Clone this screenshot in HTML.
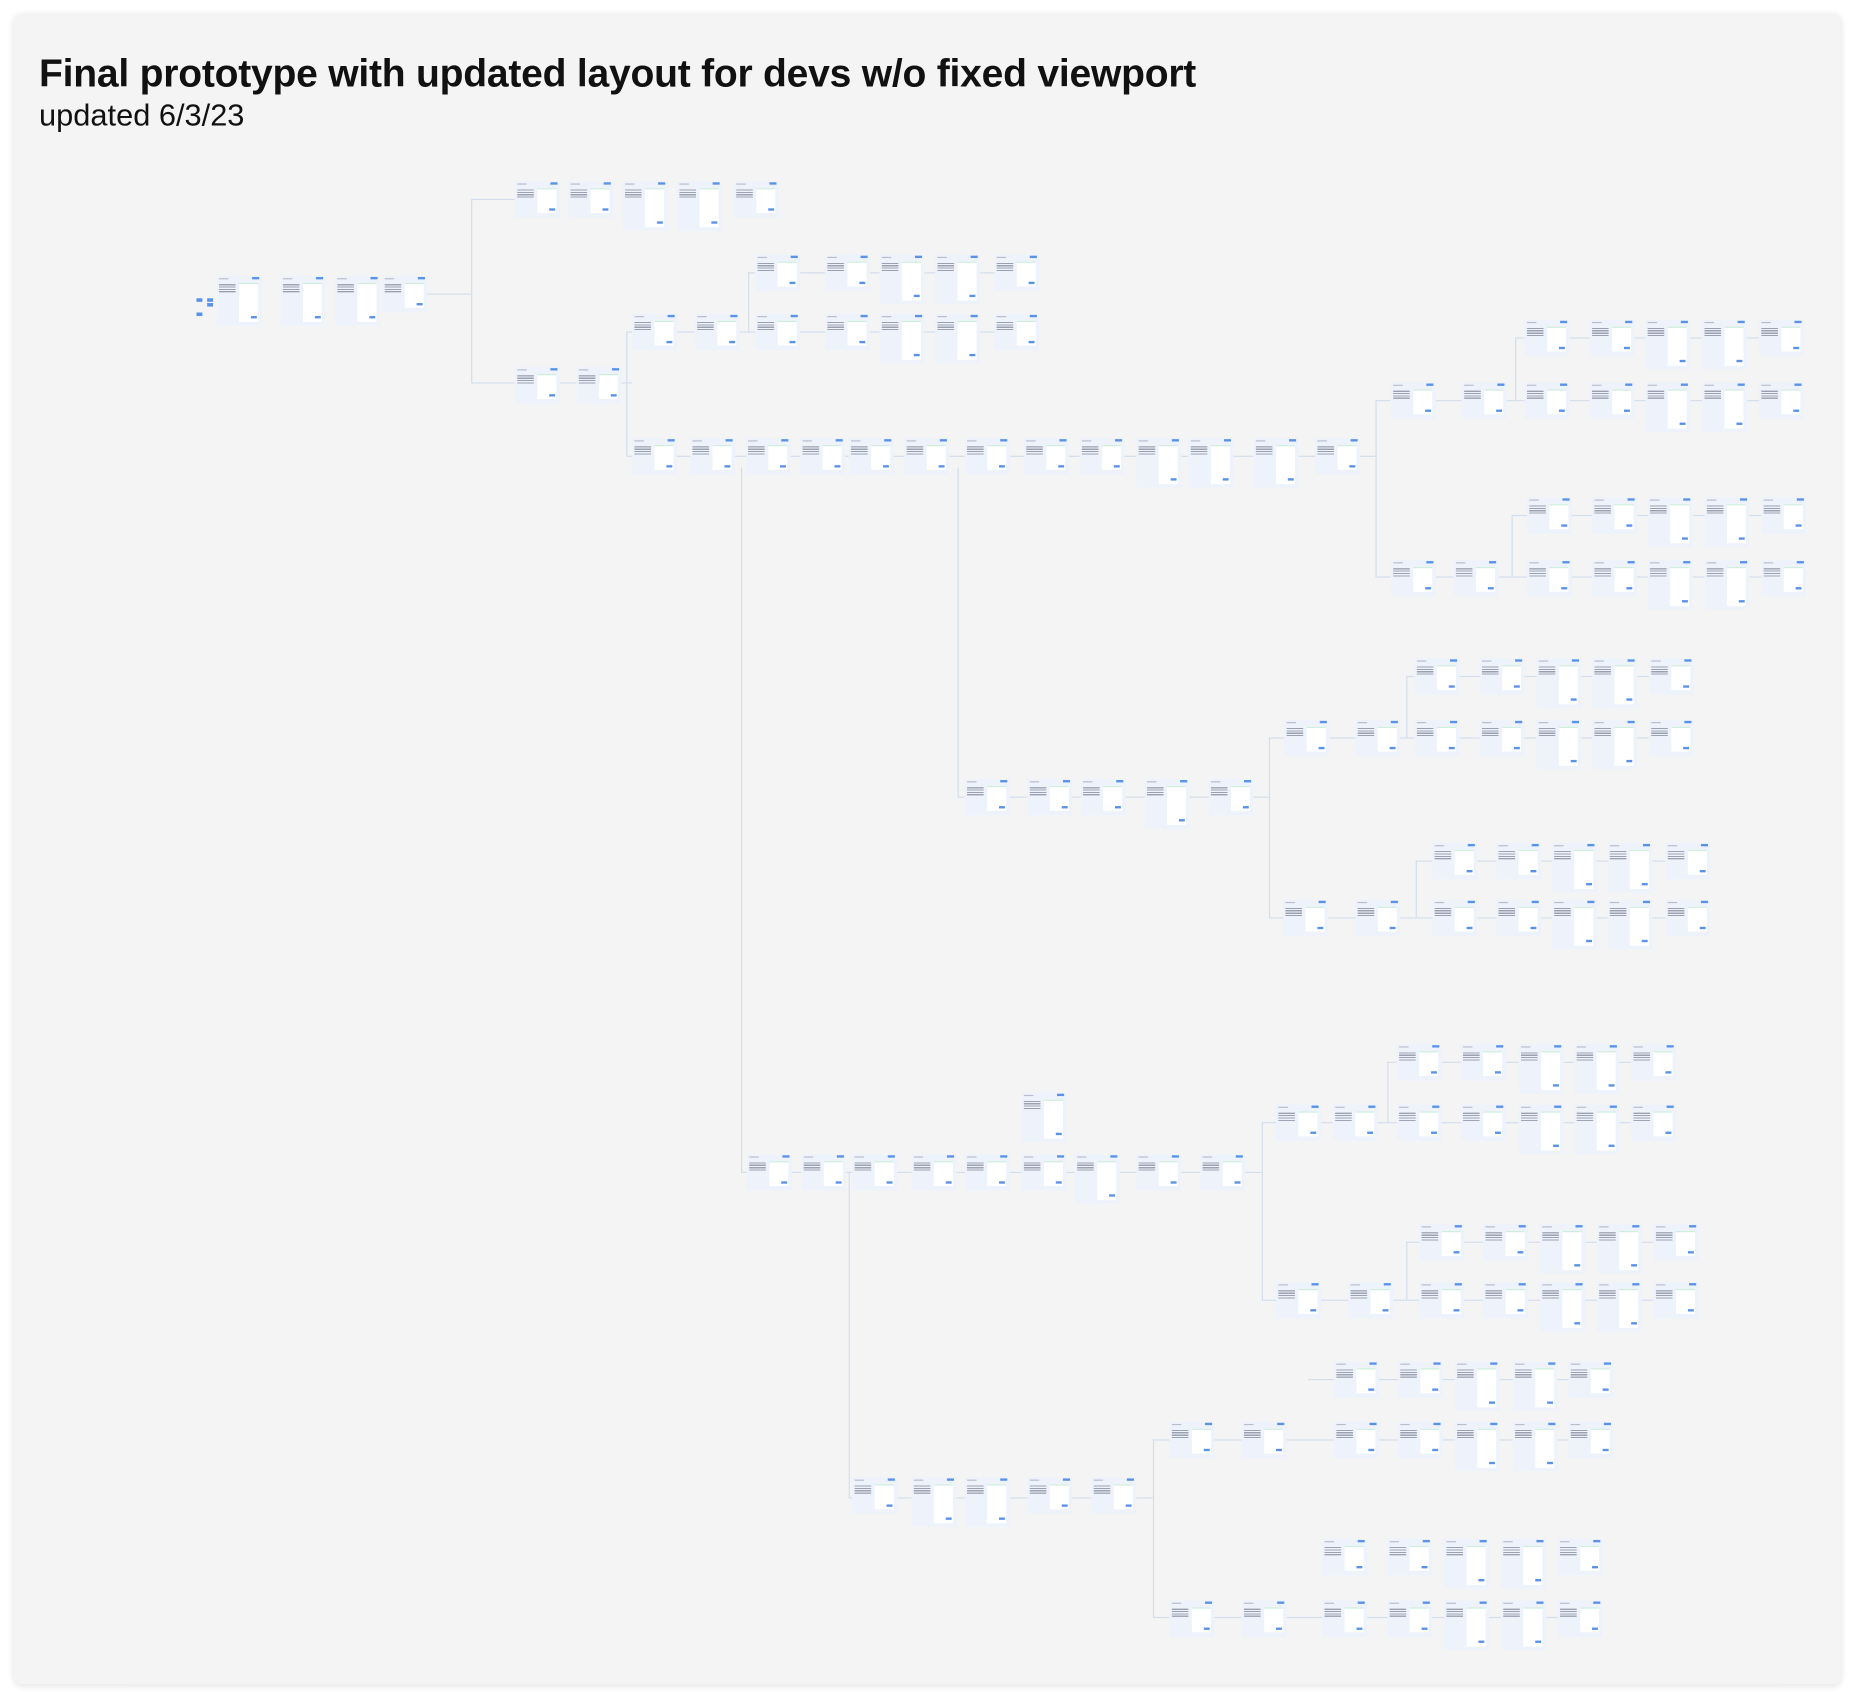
<!DOCTYPE html>
<html><head><meta charset="utf-8">
<style>
html,body{margin:0;padding:0;background:#fff;width:1856px;height:1705px;overflow:hidden}
#stage{position:absolute;left:0;top:0;width:1568px;height:1440px;transform:scale(1.18367);transform-origin:0 0;font-family:"Liberation Sans",sans-serif}
#board{position:absolute;left:12px;top:12px;width:1543px;height:1411px;background:#f4f4f4;border-radius:6px;box-shadow:0 1px 6px rgba(0,0,0,.12)}
h1{position:absolute;left:33px;top:43px;margin:0;font-size:33px;font-weight:bold;color:#111;white-space:nowrap;letter-spacing:-0.2px}
.sub{position:absolute;left:33px;top:82px;font-size:26px;color:#111}
.card{position:absolute;width:38px;height:31px;background:#eef3fb;border-radius:1px}
.card .bar{position:absolute;left:2px;top:2px;width:8px;height:1px;background:#bbc}
.card .btn{position:absolute;right:2px;top:1px;width:6px;height:2px;background:#5a92ea}
.card .tx{position:absolute;left:2px;top:7px;width:14px;height:7px;background:repeating-linear-gradient(#9aa0b0 0 1px,transparent 1px 2px)}
.card .pn{position:absolute;left:19px;top:6px;width:16px;height:20px;background:#fff;border-top:1px solid #cdeedb}
.card .pb{position:absolute;right:4px;bottom:6px;width:5px;height:2px;background:#5a92ea}
.card.tall{height:42px}.card.tall .pn{height:32px}
.ln{position:absolute;background:#d3deec}
.start{position:absolute;left:148px;top:240px;width:32px;height:32px}
.start i{position:absolute;width:5px;height:3px;background:#5a92ea}
</style></head><body>
<div id="stage">
<div id="board"></div>
<h1>Final prototype with updated layout for devs w/o fixed viewport</h1>
<div class="sub">updated 6/3/23</div>
<div class="start"><i style="left:18px;top:12px"></i><i style="left:18px;top:24px"></i><i style="left:27px;top:12px"></i><i style="left:27px;top:16px"></i></div>
<div id="flow"></div>
</div>
<script>
const rows=[
 [153,[435,480,526,572,620],[526,572]],
 [233,[183,237,283,323],[183,237,283]],
 [310,[435,487],[]],
 [265,[534,587,638,697,743,790,840],[743,790]],
 [215,[638,697,743,790,840],[743,790]],
 [370,[534,583,630,676,717,764,815,865,912,960,1004,1059,1111],[960,1004,1059]],
 [323,[1175,1235,1288,1343,1390,1438,1486],[1390,1438]],
 [270,[1288,1343,1390,1438,1486],[1390,1438]],
 [420,[1290,1345,1392,1440,1488],[1392,1440]],
 [473,[1175,1228,1290,1345,1392,1440,1488],[1392,1440]],
 [658,[815,868,913,967,1021],[967]],
 [608,[1085,1145,1195,1250,1298,1345,1393],[1298,1345]],
 [556,[1195,1250,1298,1345,1393],[1298,1345]],
 [712,[1210,1264,1311,1358,1407],[1311,1358]],
 [760,[1084,1145,1210,1264,1311,1358,1407],[1311,1358]],
 [923,[863],[863]],
 [975,[631,677,720,770,815,863,908,960,1014],[908]],
 [933,[1078,1126,1180,1234,1283,1330,1378],[1283,1330]],
 [882,[1180,1234,1283,1330,1378],[1283,1330]],
 [1034,[1199,1253,1301,1349,1397],[1301,1349]],
 [1083,[1078,1139,1199,1253,1301,1349,1397],[1301,1349]],
 [1248,[720,770,815,868,922],[770,815]],
 [1150,[1127,1181,1229,1278,1325],[1229,1278]],
 [1201,[988,1049,1127,1181,1229,1278,1325],[1229,1278]],
 [1300,[1117,1172,1220,1268,1316],[1220,1268]],
 [1352,[988,1049,1117,1172,1220,1268,1316],[1220,1268]]
];
const hlines=[[360,398,248],[398,435,168],[398,435,323],[470,534,323],[529,534,280],[529,534,385],[570,1162,385],[632,877,230],[570,877,280],[1162,1175,338],[1210,1524,338],[1280,1524,285],[1162,1175,487],[1210,1524,487],[1277,1524,435],[809,1072,673],[1072,1085,623],[1120,1430,623],[1188,1430,571],[1072,1084,775],[1120,1444,775],[1196,1444,727],[626,1066,990],[1066,1078,948],[1112,1414,948],[1172,1414,897],[1066,1078,1098],[1112,1434,1098],[1188,1434,1049],[717,974,1265],[974,988,1216],[1022,1362,1216],[1105,1362,1165],[974,988,1366],[1022,1352,1366]];
const vlines=[[398,168,323],[529,280,385],[632,230,280],[1162,338,487],[1280,285,338],[1277,435,487],[626,395,990],[809,395,673],[1072,623,775],[1188,571,623],[1196,727,775],[1066,948,1098],[1172,897,948],[1188,1049,1098],[717,990,1265],[974,1216,1366]];
const f=document.getElementById('flow');
hlines.forEach(l=>{const d=document.createElement('div');d.className='ln';


d.style.cssText=`left:${l[0]}px;top:${l[2]}px;width:${l[1]-l[0]}px;height:1px`;f.appendChild(d);});
vlines.forEach(l=>{const d=document.createElement('div');d.className='ln';


d.style.cssText=`left:${l[0]}px;top:${l[1]}px;width:1px;height:${l[2]-l[1]}px`;f.appendChild(d);});
rows.forEach(r=>{r[1].forEach(x=>{const c=document.createElement('div');
c.className='card'+(r[2].includes(x)?' tall':'');


c.style.left=x+'px';c.style.top=r[0]+'px';
c.innerHTML='<div class="bar"></div><div class="btn"></div><div class="tx"></div><div class="pn"></div><div class="pb"></div>';
f.appendChild(c);});});
</script>
</body></html>
